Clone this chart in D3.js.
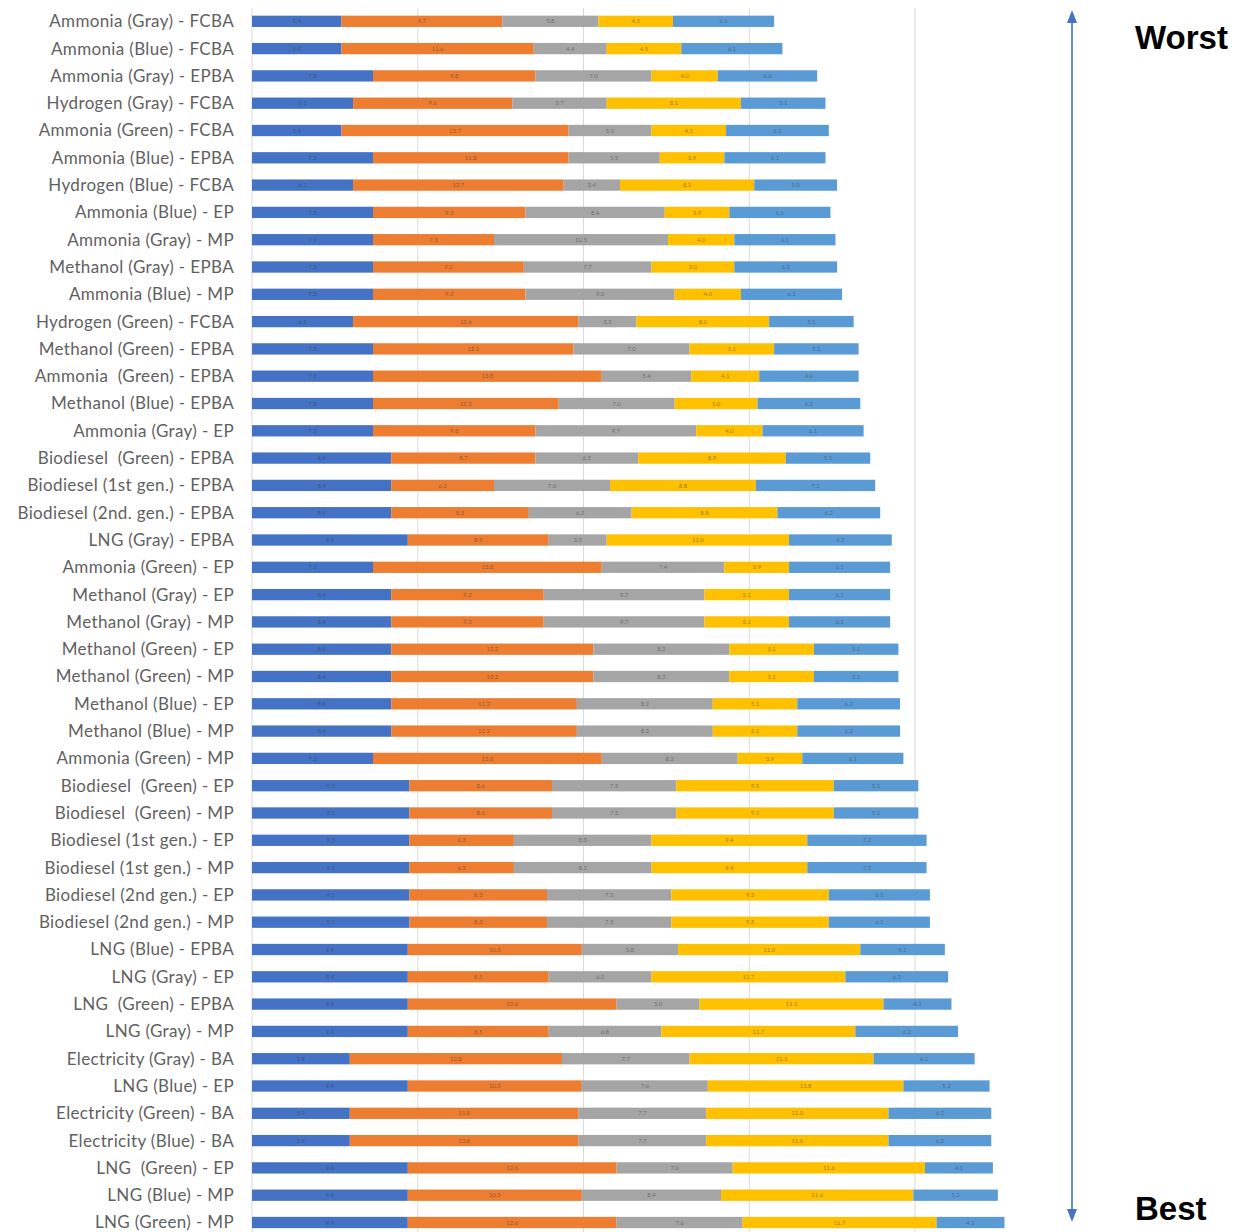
<!DOCTYPE html>
<html><head><meta charset="utf-8">
<script src="https://cdn.jsdelivr.net/npm/d3@7"></script>
<style>html,body{margin:0;padding:0;background:#fff;} svg{display:block;}</style>
</head><body>
<svg id="chart" width="1234" height="1232"></svg>
<script>
const categories = [
"Ammonia (Gray) - FCBA","Ammonia (Blue) - FCBA","Ammonia (Gray) - EPBA","Hydrogen (Gray) - FCBA",
"Ammonia (Green) - FCBA","Ammonia (Blue) - EPBA","Hydrogen (Blue) - FCBA","Ammonia (Blue) - EP",
"Ammonia (Gray) - MP","Methanol (Gray) - EPBA","Ammonia (Blue) - MP","Hydrogen (Green) - FCBA",
"Methanol (Green) - EPBA","Ammonia  (Green) - EPBA","Methanol (Blue) - EPBA","Ammonia (Gray) - EP",
"Biodiesel  (Green) - EPBA","Biodiesel (1st gen.) - EPBA","Biodiesel (2nd. gen.) - EPBA","LNG (Gray) - EPBA",
"Ammonia (Green) - EP","Methanol (Gray) - EP","Methanol (Gray) - MP","Methanol (Green) - EP",
"Methanol (Green) - MP","Methanol (Blue) - EP","Methanol (Blue) - MP","Ammonia (Green) - MP",
"Biodiesel  (Green) - EP","Biodiesel  (Green) - MP","Biodiesel (1st gen.) - EP","Biodiesel (1st gen.) - MP",
"Biodiesel (2nd gen.) - EP","Biodiesel (2nd gen.) - MP","LNG (Blue) - EPBA","LNG (Gray) - EP",
"LNG  (Green) - EPBA","LNG (Gray) - MP","Electricity (Gray) - BA","LNG (Blue) - EP",
"Electricity (Green) - BA","Electricity (Blue) - BA","LNG  (Green) - EP","LNG (Blue) - MP","LNG (Green) - MP"
];
const seriesKeys = ["s1","s2","s3","s4","s5"];
const seriesColors = ["#4472C4","#ED7D31","#A5A5A5","#FFC000","#5B9BD5"];
const s1 = [5.4,5.4,7.3,6.1,5.4,7.3,6.1,7.3,7.3,7.3,7.3,6.1,7.3,7.3,7.3,7.3,8.4,8.4,8.4,9.4,7.3,8.4,8.4,8.4,8.4,8.4,8.4,7.3,9.5,9.5,9.5,9.5,9.5,9.5,9.4,9.4,9.4,9.4,5.9,9.4,5.9,5.9,9.4,9.4,9.4];
const s2 = [9.7,11.6,9.8,9.6,13.7,11.8,12.7,9.2,7.3,9.1,9.2,13.6,12.1,13.8,11.2,9.8,8.7,6.2,8.3,8.5,13.8,9.2,9.2,12.2,12.2,11.2,11.2,13.8,8.6,8.6,6.3,6.3,8.3,8.3,10.5,8.5,12.6,8.5,12.8,10.5,13.8,13.8,12.6,10.5,12.6];
const s3 = [5.8,4.4,7.0,5.7,5.0,5.5,3.4,8.4,10.5,7.7,9.0,3.5,7.0,5.4,7.0,9.7,6.2,7.0,6.2,3.5,7.4,9.7,9.7,8.2,8.2,8.2,8.2,8.2,7.5,7.5,8.3,8.3,7.5,7.5,5.8,6.2,5.0,6.8,7.7,7.6,7.7,7.7,7.0,8.4,7.6];
const s4 = [4.5,4.5,4.0,8.1,4.5,3.9,8.1,3.9,4.0,5.0,4.0,8.0,5.1,4.1,5.0,4.0,8.9,8.8,8.8,11.0,3.9,5.1,5.1,5.1,5.1,5.1,5.1,3.9,9.5,9.5,9.4,9.4,9.5,9.5,11.0,11.7,11.1,11.7,11.1,11.8,11.0,11.0,11.6,11.6,11.7];
const s5 = [6.1,6.1,6.0,5.1,6.2,6.1,5.0,6.1,6.1,6.2,6.1,5.1,5.1,6.0,6.2,6.1,5.1,7.2,6.2,6.2,6.1,6.1,6.1,5.1,5.1,6.2,6.2,6.1,5.1,5.1,7.2,7.2,6.1,6.1,5.1,6.2,4.1,6.2,6.1,5.2,6.2,6.2,4.1,5.1,4.1];
const xTicks = [0,10,20,30,40];
const topLabel = "Worst";
const bottomLabel = "Best";

const seriesValues = [s1,s2,s3,s4,s5];
const table = categories.map((c,i)=>{
  const row = {category:c};
  seriesKeys.forEach((k,j)=>row[k]=seriesValues[j][i]);
  return row;
});

const svg = d3.select("#chart");
const x = d3.scaleLinear().domain([0,40]).range([252,915]);
const y = d3.scaleBand().domain(categories).range([7.65,1236.15]).paddingInner(0.586).paddingOuter(0.293);
const color = d3.scaleOrdinal().domain(seriesKeys).range(seriesColors);

// gridlines
svg.append("g").selectAll("line").data(xTicks).join("line")
  .attr("x1",d=>x(d)).attr("x2",d=>x(d))
  .attr("y1",8).attr("y2",1232)
  .attr("stroke","#d9d9d9").attr("stroke-width",1);

const stacked = d3.stack().keys(seriesKeys)(table);

const layers = svg.append("g").selectAll("g").data(stacked).join("g")
  .attr("fill",d=>color(d.key));
layers.selectAll("rect").data(d=>d).join("rect")
  .attr("x",d=>x(d[0]))
  .attr("width",d=>x(d[1])-x(d[0]))
  .attr("y",d=>y(d.data.category))
  .attr("height",y.bandwidth());

// tiny data labels
const lbl = svg.append("g").attr("font-family","Lato, sans-serif").attr("font-size",6)
  .attr("fill","#3a3a3a").attr("fill-opacity",0.55).attr("text-anchor","middle");
stacked.forEach(layer=>{
  lbl.selectAll(null).data(layer).join("text")
    .attr("x",d=>(x(d[0])+x(d[1]))/2)
    .attr("y",d=>y(d.data.category)+y.bandwidth()/2)
    .attr("dy","0.35em")
    .text(d=>d3.format(".1f")(d[1]-d[0]));
});

// category labels
svg.append("g").selectAll("text").data(categories).join("text")
  .attr("x",234)
  .attr("y",d=>y(d)+y.bandwidth()/2)
  .attr("dy","0.35em")
  .attr("text-anchor","end")
  .attr("font-family","Lato, sans-serif")
  .attr("font-size",17)
  .attr("letter-spacing","0.35px")
  .attr("fill","#5f5f5f")
  .style("white-space","pre")
  .text(d=>d);

// arrow
const ax = 1072;
const g = svg.append("g").attr("fill","#4472C4").attr("stroke","#4472C4");
g.append("line").attr("x1",ax).attr("x2",ax).attr("y1",20).attr("y2",1212).attr("stroke-width",1.6);
g.append("path").attr("stroke","none").attr("d",`M${ax},10 L${ax-5},23 L${ax+5},23 Z`);
g.append("path").attr("stroke","none").attr("d",`M${ax},1222 L${ax-5},1209 L${ax+5},1209 Z`);

svg.append("text").attr("x",1135).attr("y",49).attr("font-family","Liberation Sans, Arial, sans-serif")
  .attr("font-weight","bold").attr("font-size",33).attr("fill","#000").text(topLabel);
svg.append("text").attr("x",1135).attr("y",1220).attr("font-family","Liberation Sans, Arial, sans-serif")
  .attr("font-weight","bold").attr("font-size",33).attr("fill","#000").text(bottomLabel);
</script>
</body></html>
